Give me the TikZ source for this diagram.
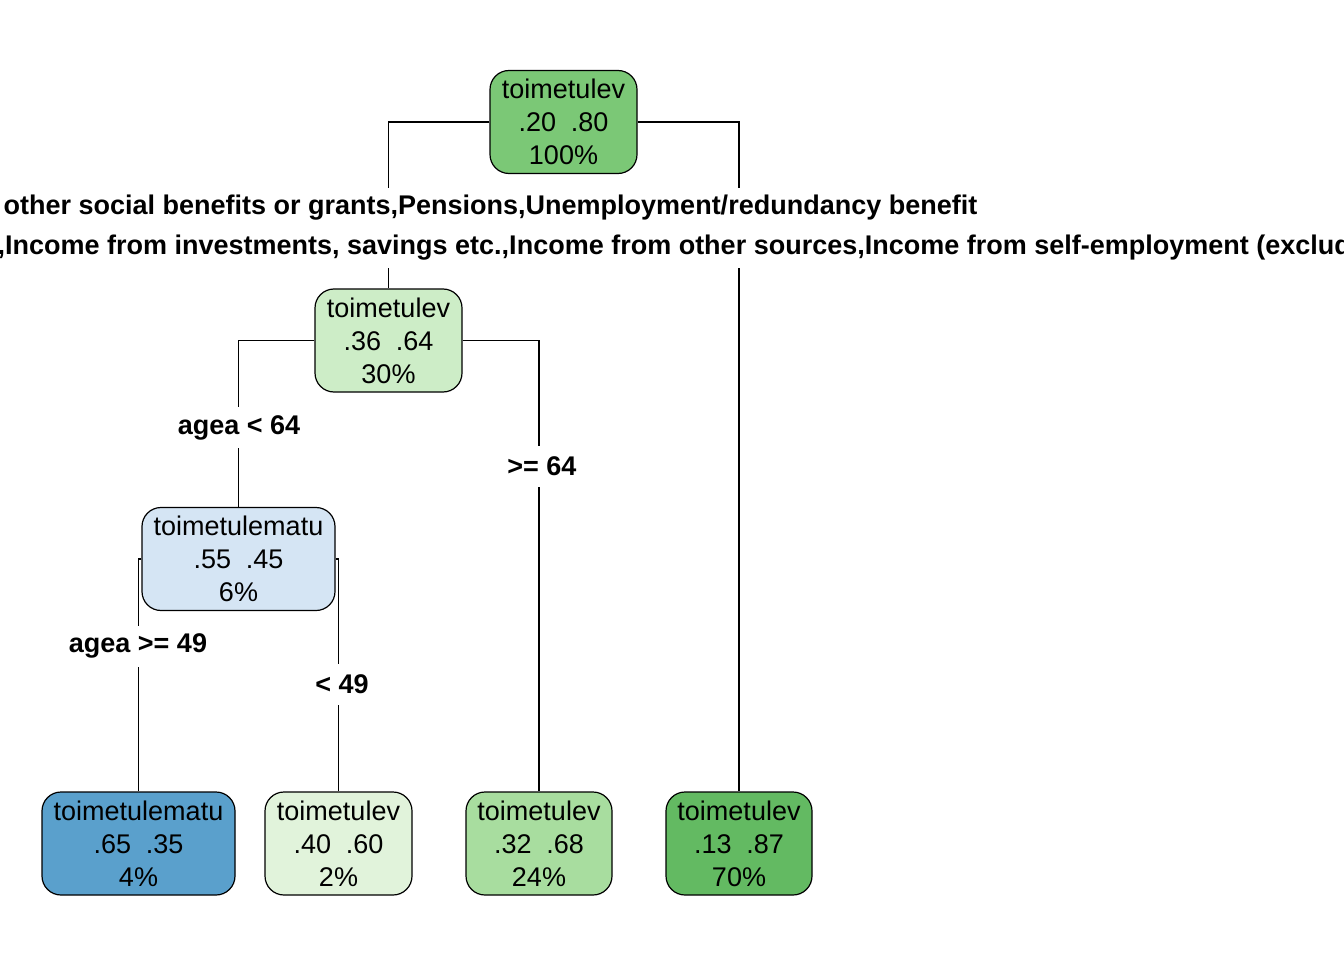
\documentclass[tikz,border=0pt]{standalone}
\usepackage{fontspec}
\setmainfont{Liberation Sans}
\definecolor{rootc}{HTML}{7BC876}
\definecolor{ntwo}{HTML}{CDEDC7}
\definecolor{nthree}{HTML}{D5E5F4}
\definecolor{leafa}{HTML}{5AA0CC}
\definecolor{leafb}{HTML}{E1F3DB}
\definecolor{leafc}{HTML}{A8DD9F}
\definecolor{leafd}{HTML}{63BA62}
\begin{document}
\begin{tikzpicture}[x=1pt,y=-1pt,line width=1.2pt,
  tnode/.style={draw=black,rounded corners=19pt,align=center,
    font=\fontsize{27}{33}\selectfont,inner sep=0pt,minimum height=103pt},
  lbl/.style={fill=white,font=\bfseries\fontsize{27}{31}\selectfont,inner xsep=1pt,inner ysep=0pt,minimum height=41pt}]
\clip (0,0) rectangle (1344,960);
\fill[white] (0,0) rectangle (1344,960);
% nodes
\node[tnode,fill=rootc,minimum width=147pt] (n1) at (563.5,122) {toimetulev\\.20\hspace{0.55em}.80\\100\%};
\node[tnode,fill=ntwo,minimum width=147pt] (n2) at (388.5,340.5) {toimetulev\\.36\hspace{0.55em}.64\\30\%};
\node[tnode,fill=nthree,minimum width=193pt] (n3) at (238.5,559) {toimetulematu\\.55\hspace{0.55em}.45\\6\%};
\node[tnode,fill=leafa,minimum width=193pt] (l1) at (138.5,843.5) {toimetulematu\\.65\hspace{0.55em}.35\\4\%};
\node[tnode,fill=leafb,minimum width=147pt] (l2) at (338.5,843.5) {toimetulev\\.40\hspace{0.55em}.60\\2\%};
\node[tnode,fill=leafc,minimum width=146pt] (l3) at (539,843.5) {toimetulev\\.32\hspace{0.55em}.68\\24\%};
\node[tnode,fill=leafd,minimum width=146pt] (l4) at (739,843.5) {toimetulev\\.13\hspace{0.55em}.87\\70\%};
% connectors
\draw (n1.west) -| (n2.north);
\draw (n1.east) -| (l4.north);
\draw (n2.west) -| (n3.north);
\draw (n2.east) -| (l3.north);
\draw (n3.west) -| (l1.north);
\draw (n3.east) -| (l2.north);
% split labels
\node[lbl,anchor=west,minimum height=40pt] (s1a) at (2,208) {other social benefits or grants,Pensions,Unemployment/redundancy benefit};
\node[lbl,anchor=west,minimum height=40pt] (s1b) at (-4,248) {,Income from investments, savings etc.,Income from other sources,Income from self-employment (excluding};
\node[lbl] (s2a) at (239,427.5) {agea < 64};
\node[lbl] (s2b) at (542,466) {>= 64};
\node[lbl] (s3a) at (138,646) {agea >= 49};
\node[lbl] (s3b) at (342,684.5) {< 49};
\end{tikzpicture}
\end{document}
